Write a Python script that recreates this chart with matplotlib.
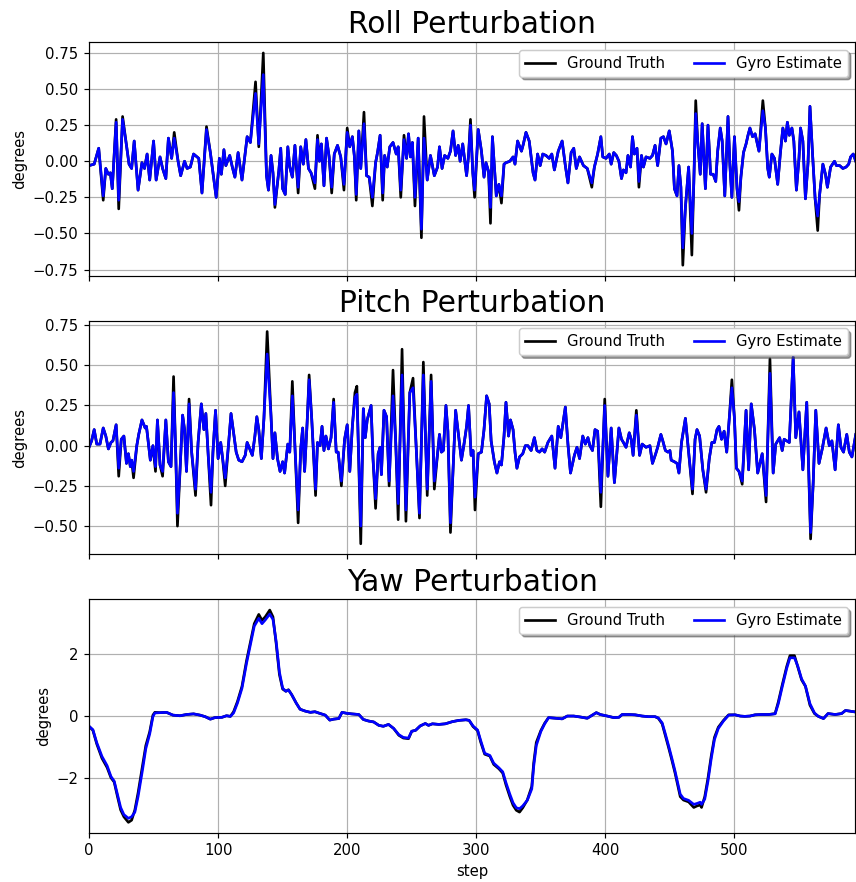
import matplotlib
matplotlib.use('Agg')
import matplotlib.pyplot as plt

# ---- roll perturbation (degrees) ----
roll_steps = [0, 4, 7.5, 11, 13, 15, 16.5, 18, 21, 23,
              26, 29, 31, 33, 35, 38, 41, 43, 45, 47,
              50, 52, 55, 57, 59.5, 61.5, 64, 66, 69, 71,
              74, 76, 78.5, 81, 85, 87.5, 91, 94, 98.5, 101,
              102.5, 104.5, 106, 109, 111, 113, 115.5, 118.5, 122.5, 125,
              129, 131.5, 135, 137.5, 139, 141, 142.5, 144, 147, 148.5,
              150, 152, 154, 155.5, 157.5, 159.5, 162, 164, 166, 168,
              170, 172, 175, 177, 178.5, 180, 182, 184, 186, 188,
              190, 192.5, 195, 197.5, 200, 202, 204, 205.5, 207, 209,
              210.5, 213, 215, 217, 219.5, 222, 223.5, 225.5, 227.5, 229,
              231, 233, 235.5, 238, 239.5, 241.5, 244, 246, 247.5, 249,
              250.5, 252.5, 255, 257.5, 259.5, 262, 264.5, 267.5, 270, 271.5,
              273.5, 275.5, 278, 280, 282, 284, 286, 287.5, 289.5, 292.5,
              294, 295.5, 297.3, 298.7, 301.5, 304, 306, 307.5, 309.5, 311,
              312.5, 314, 315.5, 317.5, 319.5, 321.5, 323, 326, 328.5, 330,
              332, 335, 336.5, 338.5, 341, 344, 345.5, 347.5, 349.5, 351.5,
              354, 356.5, 358.5, 360.5, 363.5, 366.5, 369, 371, 373.5, 375.5,
              377.5, 380, 383, 386, 389.5, 391.5, 394, 396.5, 398, 400.5,
              403, 404.5, 406.5, 408.5, 410.5, 412.5, 414, 416, 417.5, 419.5,
              421, 422.5, 424.5, 426, 428, 429.5, 431.5, 434.5, 436.5, 438.5,
              440.5, 443, 445, 447, 449.5, 452, 453.5, 455.5, 457, 458.5,
              460, 462, 464.5, 467, 468.5, 470, 471.5, 473.5, 475, 477.5,
              479.5, 481.5, 483.5, 485.5, 487, 489, 490.5, 492.5, 495, 496.5,
              498, 500, 502, 503.5, 505, 507, 509, 510.5, 512, 514,
              516, 519, 522, 524, 525.8, 527, 529, 531, 533.5, 535.5,
              537.5, 539.5, 541, 542.5, 544.5, 546, 548, 550, 551.2, 553,
              555, 557, 558.5, 560.5, 562.5, 564.5, 566, 568.5, 570.5, 572,
              574.5, 577.5, 579, 581.5, 584, 586.5, 588.5, 590, 592, 594]
roll_truth = [-0.03, -0.02, 0.09, -0.27, -0.05, -0.09, -0.08, -0.19, 0.29, -0.33,
              0.31, 0.11, -0.02, -0.05, 0.14, -0.2, -0.01, -0.05, 0.05, -0.13,
              0.14, -0.13, 0.03, -0.05, -0.12, 0.16, 0.02, 0.2, 0.0, -0.1,
              0.0, -0.05, -0.04, 0.05, 0.02, -0.22, 0.24, 0.06, -0.25, 0.02,
              -0.09, 0.08, -0.03, 0.04, -0.04, -0.11, 0.06, -0.13, 0.17, 0.13,
              0.55, 0.1, 0.75, -0.1, -0.2, 0.04, -0.08, -0.32, -0.07, 0.09,
              -0.19, -0.23, 0.1, -0.04, -0.11, 0.11, -0.22, 0.1, -0.02, 0.15,
              -0.05, -0.08, -0.19, 0.18, 0.0, 0.12, -0.17, 0.16, 0.03, -0.22,
              0.05, 0.11, 0.03, -0.2, 0.23, 0.1, 0.17, 0.04, -0.27, 0.21,
              -0.05, 0.34, -0.1, -0.11, -0.31, -0.01, 0.06, 0.18, -0.27, 0.04,
              -0.04, 0.1, 0.13, 0.05, 0.1, -0.25, 0.18, 0.02, 0.19, 0.03,
              0.13, -0.31, 0.16, -0.53, 0.31, -0.13, 0.04, -0.1, -0.04, 0.1,
              -0.05, 0.04, 0.02, 0.07, 0.21, 0.04, 0.11, 0.0, 0.12, -0.1,
              0.04, 0.29, -0.08, -0.25, 0.22, 0.07, -0.11, -0.01, -0.07, -0.43,
              0.17, -0.04, -0.24, -0.16, -0.29, -0.02, -0.01, 0.0, 0.03, -0.02,
              0.14, 0.07, 0.12, 0.2, 0.14, -0.08, -0.13, 0.05, -0.03, 0.05,
              0.04, 0.02, 0.05, -0.06, 0.07, 0.14, -0.03, -0.15, 0.06, 0.09,
              -0.05, 0.03, -0.03, -0.05, -0.18, -0.04, 0.05, 0.17, 0.03, 0.02,
              0.05, -0.02, 0.06, 0.04, 0.0, -0.12, -0.06, -0.08, 0.04, -0.04,
              0.17, 0.05, 0.09, -0.18, 0.04, -0.04, 0.03, 0.02, 0.04, 0.11,
              -0.03, 0.16, 0.17, 0.12, 0.21, 0.07, -0.19, -0.24, -0.03, -0.18,
              -0.72, -0.32, -0.04, -0.65, -0.15, 0.42, 0.14, -0.09, 0.26, -0.19,
              0.25, -0.09, -0.09, -0.14, 0.07, 0.23, 0.14, -0.24, 0.31, -0.03,
              -0.25, 0.17, -0.19, -0.34, -0.11, 0.06, 0.12, 0.18, 0.23, 0.17,
              0.19, 0.07, 0.42, 0.23, -0.05, -0.11, 0.05, 0.02, -0.16, 0.05,
              0.23, 0.14, 0.27, 0.18, 0.23, 0.14, -0.2, 0.02, 0.23, 0.14,
              -0.26, -0.01, 0.38, 0.05, -0.26, -0.48, -0.23, -0.02, -0.09, -0.18,
              -0.04, 0.0, -0.03, -0.03, -0.05, -0.04, -0.02, 0.03, 0.05, 0.0]
roll_gyro = [-0.03, -0.02, 0.09, -0.24, -0.05, -0.09, -0.08, -0.19, 0.27, -0.27,
             0.29, 0.11, -0.02, -0.05, 0.14, -0.2, -0.01, -0.05, 0.05, -0.13,
             0.14, -0.13, 0.03, -0.05, -0.12, 0.16, 0.02, 0.16, 0.0, -0.1,
             0.0, -0.05, -0.04, 0.05, 0.02, -0.22, 0.22, 0.06, -0.25, 0.02,
             -0.09, 0.08, -0.03, 0.04, -0.04, -0.11, 0.06, -0.13, 0.17, 0.13,
             0.47, 0.12, 0.6, -0.1, -0.2, 0.04, -0.08, -0.3, -0.07, 0.09,
             -0.19, -0.23, 0.1, -0.04, -0.11, 0.11, -0.18, 0.1, -0.02, 0.15,
             -0.05, -0.08, -0.15, 0.15, 0.0, 0.12, -0.17, 0.16, 0.03, -0.18,
             0.05, 0.11, 0.03, -0.16, 0.2, 0.1, 0.17, 0.04, -0.23, 0.21,
             -0.05, 0.26, -0.1, -0.11, -0.25, -0.01, 0.06, 0.18, -0.22, 0.04,
             -0.04, 0.1, 0.13, 0.05, 0.1, -0.2, 0.15, 0.02, 0.19, 0.03,
             0.13, -0.25, 0.16, -0.47, 0.16, -0.13, 0.04, -0.1, -0.04, 0.1,
             -0.05, 0.04, 0.02, 0.07, 0.21, 0.04, 0.11, 0.0, 0.12, -0.1,
             0.04, 0.25, -0.08, -0.2, 0.22, 0.07, -0.11, -0.01, -0.07, -0.32,
             0.17, -0.04, -0.24, -0.16, -0.24, -0.02, -0.01, 0.0, 0.03, -0.02,
             0.14, 0.07, 0.12, 0.2, 0.14, -0.08, -0.13, 0.05, -0.03, 0.05,
             0.04, 0.02, 0.05, -0.06, 0.07, 0.14, -0.03, -0.15, 0.06, 0.09,
             -0.05, 0.03, -0.03, -0.05, -0.15, -0.04, 0.05, 0.17, 0.03, 0.02,
             0.05, -0.02, 0.06, 0.04, 0.0, -0.12, -0.06, -0.08, 0.04, -0.04,
             0.17, 0.05, 0.09, -0.14, 0.04, -0.04, 0.03, 0.02, 0.04, 0.11,
             -0.03, 0.16, 0.17, 0.12, 0.21, 0.07, -0.19, -0.24, -0.03, -0.18,
             -0.6, -0.32, -0.04, -0.5, -0.15, 0.33, 0.14, -0.09, 0.26, -0.19,
             0.25, -0.09, -0.09, -0.14, 0.07, 0.23, 0.14, -0.24, 0.31, -0.03,
             -0.25, 0.17, -0.19, -0.28, -0.11, 0.06, 0.12, 0.18, 0.23, 0.17,
             0.19, 0.07, 0.35, 0.23, -0.05, -0.11, 0.05, 0.02, -0.16, 0.05,
             0.23, 0.14, 0.27, 0.18, 0.23, 0.14, -0.2, 0.02, 0.23, 0.14,
             -0.26, -0.01, 0.38, 0.05, -0.26, -0.38, -0.23, -0.02, -0.09, -0.18,
             -0.04, 0.0, -0.03, -0.03, -0.05, -0.04, -0.02, 0.03, 0.05, 0.0]

# ---- pitch perturbation (degrees) ----
pitch_steps = [0, 2, 4, 6, 8.5, 11, 13, 15, 17, 18.5,
               21, 23, 25, 27, 29, 30.5, 32, 33, 34.5, 37,
               38.5, 41, 43.5, 44.5, 47.5, 49.5, 51.5, 53, 55, 57,
               59.5, 61.5, 63.5, 65.5, 67, 68.5, 70.5, 72.5, 74, 75.5,
               77.5, 79.5, 82.5, 84.5, 87, 89, 90.5, 92.5, 94.5, 96,
               98, 100, 102, 103.5, 105.5, 108, 110, 112, 114, 116,
               118.5, 121, 122.5, 124.5, 126.5, 128.5, 130, 131.5, 133.5, 135.5,
               138, 141, 142.5, 144, 146, 148, 150, 151.5, 154, 155.5,
               157.5, 159.5, 162, 164, 165.5, 167, 169, 170.5, 172.5, 175.5,
               177, 179, 180.5, 182, 183.5, 185.5, 187.5, 189.5, 191.5, 193,
               195.5, 198, 200, 202, 204, 206, 207.5, 210.5, 212.5, 214,
               215.5, 218.5, 220, 222, 224, 225.5, 226.5, 228.5, 230.5, 232.5,
               235.5, 237.5, 239.5, 242.5, 245.5, 248.5, 251, 253.5, 256, 259,
               262, 265, 267.5, 270, 271.5, 273, 274.5, 276.5, 278, 280,
               282, 284, 286, 288.5, 290.5, 292.5, 294, 296, 297.5, 299,
               301.5, 304, 306, 308, 310, 311.5, 314, 316, 318, 319.5,
               321.5, 323, 325, 326.5, 328.5, 330, 331.5, 333.5, 336, 338,
               340, 342.5, 345, 347, 349, 351, 353, 355.5, 358.5, 361,
               363.5, 365.5, 369, 371, 373, 376, 378, 380, 382.5, 384.5,
               386.5, 388, 390, 392, 394, 396.5, 399.5, 402, 404.5, 407,
               410.5, 412.5, 414, 416, 418.5, 420, 421.5, 424, 426.5, 428.5,
               431.5, 434.5, 436.5, 439, 440.5, 443, 444.5, 446.5, 448.5, 450,
               451, 453.5, 455.5, 457, 459, 462, 464.5, 467.5, 469.5, 471,
               473, 475.5, 478, 480.5, 482.5, 484.5, 486.5, 488, 490, 492,
               494, 496, 498, 500, 501.5, 503.5, 506, 509, 511, 513,
               515.5, 518, 521.5, 524.5, 527.5, 530, 532, 535, 537, 538.5,
               540.5, 542.5, 545.5, 547.5, 550, 553, 556, 559, 561, 563,
               565.5, 568, 571, 573.5, 575.5, 578, 580.5, 582.5, 584.5, 587,
               589, 591, 594]
pitch_truth = [-0.01, 0.03, 0.1, 0.01, 0.01, 0.11, 0.06, -0.02, 0.02, 0.03,
               0.13, -0.19, 0.04, 0.06, -0.11, -0.05, -0.13, -0.09, -0.2, 0.0,
               0.07, 0.16, 0.11, 0.12, -0.09, 0.0, -0.16, 0.16, -0.12, -0.19,
               0.16, -0.1, -0.13, 0.43, 0.0, -0.5, -0.15, 0.19, 0.1, -0.16,
               0.29, -0.04, -0.31, 0.02, 0.26, 0.1, 0.2, -0.08, -0.37, -0.04,
               0.22, -0.08, 0.02, -0.08, -0.25, 0.0, 0.2, 0.08, -0.04, -0.09,
               -0.1, -0.06, 0.02, -0.02, -0.06, 0.06, 0.18, 0.1, -0.08, 0.17,
               0.71, 0.18, -0.08, 0.08, -0.08, -0.16, -0.1, -0.17, 0.01, -0.04,
               0.4, 0.0, -0.48, -0.02, 0.11, -0.16, 0.15, 0.44, 0.17, -0.31,
               0.02, 0.0, 0.12, -0.03, 0.06, -0.02, 0.05, 0.29, -0.04, -0.04,
               -0.25, 0.04, 0.13, -0.16, 0.12, 0.33, 0.37, -0.61, 0.23, 0.05,
               0.16, 0.25, -0.08, -0.39, -0.05, -0.01, -0.18, 0.22, 0.18, -0.25,
               0.47, 0.04, -0.46, 0.6, -0.47, 0.33, 0.42, -0.02, -0.45, 0.52,
               -0.31, 0.44, -0.27, -0.05, 0.07, -0.04, -0.03, 0.25, 0.09, -0.54,
               -0.15, 0.22, 0.08, -0.09, 0.01, 0.12, 0.25, -0.06, -0.03, -0.4,
               -0.05, -0.04, 0.1, 0.31, 0.26, 0.03, -0.1, -0.17, -0.1, -0.12,
               0.06, 0.27, 0.06, 0.16, 0.1, -0.04, -0.14, -0.07, -0.05, 0.0,
               0.0, -0.03, 0.05, -0.03, -0.04, -0.02, -0.04, 0.02, 0.06, -0.14,
               0.12, 0.05, 0.24, 0.01, -0.17, -0.06, -0.01, -0.08, 0.06, 0.01,
               0.05, 0.0, -0.03, 0.1, 0.09, -0.38, 0.29, -0.19, 0.11, -0.23,
               0.11, 0.04, 0.02, -0.01, 0.08, 0.04, -0.06, 0.22, -0.06, 0.01,
               -0.01, 0.0, -0.11, -0.05, -0.01, 0.07, 0.03, -0.03, -0.04, -0.03,
               -0.09, -0.1, -0.11, -0.17, 0.02, 0.17, -0.04, -0.3, 0.04, 0.1,
               0.06, -0.15, -0.29, -0.08, 0.02, 0.02, 0.1, 0.12, 0.04, 0.09,
               -0.04, 0.17, 0.41, 0.17, -0.14, -0.16, -0.24, 0.22, -0.15, 0.26,
               0.1, -0.17, -0.05, -0.35, 0.54, -0.17, 0.01, 0.05, -0.03, 0.04,
               0.03, 0.02, 0.55, 0.05, 0.21, -0.15, 0.27, -0.58, -0.23, 0.22,
               -0.11, -0.02, 0.11, 0.0, 0.03, -0.15, 0.13, -0.01, -0.04, 0.07,
               -0.04, -0.07, 0.07]
pitch_gyro = [-0.01, 0.03, 0.1, 0.01, 0.01, 0.11, 0.06, -0.02, 0.02, 0.03,
              0.13, -0.14, 0.04, 0.06, -0.11, -0.05, -0.13, -0.09, -0.16, 0.0,
              0.07, 0.16, 0.11, 0.12, -0.09, 0.0, -0.13, 0.16, -0.12, -0.16,
              0.16, -0.1, -0.13, 0.33, 0.0, -0.42, -0.15, 0.19, 0.1, -0.16,
              0.26, -0.04, -0.27, 0.02, 0.26, 0.1, 0.2, -0.08, -0.29, -0.04,
              0.22, -0.08, 0.02, -0.08, -0.2, 0.0, 0.2, 0.08, -0.04, -0.09,
              -0.1, -0.06, 0.02, -0.02, -0.06, 0.06, 0.18, 0.1, -0.08, 0.17,
              0.57, 0.18, -0.08, 0.08, -0.08, -0.16, -0.1, -0.17, 0.01, -0.04,
              0.31, 0.0, -0.4, -0.02, 0.11, -0.16, 0.15, 0.41, 0.17, -0.27,
              0.02, 0.0, 0.12, -0.03, 0.06, -0.02, 0.05, 0.27, -0.04, -0.04,
              -0.22, 0.04, 0.13, -0.16, 0.12, 0.3, 0.32, -0.5, 0.23, 0.05,
              0.16, 0.25, -0.08, -0.33, -0.05, -0.01, -0.18, 0.22, 0.18, -0.22,
              0.31, 0.04, -0.36, 0.44, -0.4, 0.33, 0.36, -0.02, -0.42, 0.44,
              -0.27, 0.4, -0.22, -0.05, 0.07, -0.04, -0.03, 0.25, 0.09, -0.48,
              -0.15, 0.22, 0.08, -0.09, 0.01, 0.12, 0.25, -0.06, -0.03, -0.32,
              -0.05, -0.04, 0.1, 0.31, 0.26, 0.03, -0.1, -0.17, -0.1, -0.12,
              0.06, 0.27, 0.06, 0.16, 0.1, -0.04, -0.14, -0.07, -0.05, 0.0,
              0.0, -0.03, 0.05, -0.03, -0.04, -0.02, -0.04, 0.02, 0.06, -0.14,
              0.12, 0.05, 0.24, 0.01, -0.17, -0.06, -0.01, -0.08, 0.06, 0.01,
              0.05, 0.0, -0.03, 0.1, 0.09, -0.29, 0.25, -0.19, 0.11, -0.23,
              0.11, 0.04, 0.02, -0.01, 0.08, 0.04, -0.06, 0.19, -0.06, 0.01,
              -0.01, 0.0, -0.11, -0.05, -0.01, 0.07, 0.03, -0.03, -0.04, -0.03,
              -0.09, -0.1, -0.11, -0.17, 0.02, 0.17, -0.04, -0.27, 0.04, 0.1,
              0.06, -0.15, -0.27, -0.08, 0.02, 0.02, 0.1, 0.12, 0.04, 0.09,
              -0.04, 0.17, 0.36, 0.17, -0.14, -0.16, -0.22, 0.22, -0.15, 0.26,
              0.1, -0.17, -0.05, -0.31, 0.45, -0.17, 0.01, 0.05, -0.03, 0.04,
              0.03, 0.02, 0.55, 0.05, 0.21, -0.15, 0.27, -0.54, -0.23, 0.22,
              -0.11, -0.02, 0.11, 0.0, 0.03, -0.15, 0.13, -0.01, -0.04, 0.07,
              -0.04, -0.07, 0.07]

# ---- yaw perturbation (degrees) ----
yaw_steps = [0, 3, 6, 10, 14, 17, 19.5, 22, 24.5, 27,
             30.5, 33, 35.5, 38, 41.5, 44, 47, 49.5, 51, 55,
             60, 65, 70.5, 75.5, 81, 86, 90, 94, 97.5, 103,
             106.5, 109.5, 112, 115, 118.5, 122, 125.5, 128, 131.5, 134,
             136.5, 140, 142.5, 145, 147.5, 150, 152.5, 154.5, 157, 160.5,
             163.5, 167.5, 171.5, 175, 178.5, 183, 186.5, 189.5, 193.5, 196,
             199.5, 203.5, 209, 212.5, 216.5, 220.5, 224.5, 228, 232, 236,
             240, 243.5, 247.5, 250, 253, 256.5, 260.5, 263, 266, 271,
             276, 281.5, 286.5, 292, 294.5, 297.5, 301, 303.5, 306.5, 310.5,
             313.5, 317.5, 320.5, 323, 326, 328.5, 331, 333.5, 336, 339.5,
             343, 344.5, 346.5, 350, 353, 356, 361.5, 366.5, 370.5, 375.5,
             380.5, 386, 389.5, 393, 396, 401.5, 406.5, 410.5, 413, 418,
             423, 428.5, 433.5, 438.5, 441, 444, 446.5, 449, 451.5, 454,
             456, 458, 460.5, 464.5, 468.5, 471, 473.5, 474.5, 477, 479.5,
             482, 484.5, 487.5, 491.5, 495.5, 500.5, 504.5, 508, 512, 516,
             521, 526.5, 531.5, 534, 537, 540.5, 543, 546.5, 549, 552,
             555, 558.5, 562, 565, 569, 572.5, 578, 583, 586, 590.5,
             594]
yaw_truth = [-0.33, -0.46, -0.9, -1.36, -1.66, -1.99, -2.13, -2.59, -3.03, -3.25,
             -3.43, -3.36, -3.03, -2.48, -1.6, -0.95, -0.51, 0.03, 0.12, 0.11,
             0.12, 0.03, 0.01, 0.05, 0.07, 0.03, -0.02, -0.1, -0.05, -0.04,
             0.01, -0.01, 0.14, 0.47, 0.96, 1.78, 2.49, 2.98, 3.28, 3.09,
             3.2, 3.42, 3.2, 2.33, 1.34, 0.87, 0.8, 0.85, 0.69, 0.42,
             0.22, 0.16, 0.12, 0.14, 0.09, 0.03, -0.13, -0.1, -0.08, 0.12,
             0.09, 0.07, 0.05, -0.11, -0.16, -0.19, -0.3, -0.33, -0.27, -0.4,
             -0.62, -0.71, -0.73, -0.49, -0.46, -0.32, -0.24, -0.3, -0.25, -0.27,
             -0.25, -0.18, -0.14, -0.12, -0.14, -0.34, -0.47, -0.85, -1.23, -1.29,
             -1.56, -1.7, -1.84, -2.22, -2.6, -2.88, -3.04, -3.1, -2.96, -2.71,
             -2.27, -1.51, -0.85, -0.47, -0.23, -0.05, -0.07, -0.09, 0.0, 0.0,
             -0.03, -0.07, 0.02, 0.11, 0.05, 0.0, -0.05, -0.04, 0.05, 0.05,
             0.04, 0.0, -0.02, -0.02, -0.07, -0.25, -0.63, -1.02, -1.42, -1.84,
             -2.22, -2.6, -2.71, -2.77, -2.95, -2.9, -2.87, -2.95, -2.6, -2.0,
             -1.29, -0.69, -0.36, -0.14, 0.04, 0.04, 0.0, -0.01, 0.0, 0.04,
             0.05, 0.05, 0.08, 0.46, 1.0, 1.6, 1.95, 1.95, 1.6, 1.17,
             0.96, 0.35, 0.08, -0.01, -0.08, 0.08, 0.05, 0.08, 0.18, 0.15,
             0.13]
yaw_gyro = [-0.33, -0.44, -0.86, -1.3, -1.6, -1.95, -2.1, -2.52, -2.95, -3.18,
            -3.3, -3.25, -3.1, -2.6, -1.72, -1.05, -0.58, -0.02, 0.1, 0.11,
            0.12, 0.03, 0.01, 0.05, 0.07, 0.03, -0.02, -0.1, -0.05, -0.04,
            0.01, -0.01, 0.1, 0.42, 0.9, 1.7, 2.4, 2.9, 3.15, 2.98,
            3.1, 3.29, 3.12, 2.4, 1.42, 0.9, 0.8, 0.84, 0.69, 0.42,
            0.22, 0.16, 0.12, 0.14, 0.09, 0.03, -0.13, -0.1, -0.08, 0.12,
            0.09, 0.07, 0.05, -0.11, -0.16, -0.19, -0.3, -0.33, -0.27, -0.4,
            -0.6, -0.69, -0.71, -0.49, -0.46, -0.32, -0.24, -0.3, -0.25, -0.27,
            -0.25, -0.18, -0.14, -0.12, -0.14, -0.32, -0.45, -0.8, -1.2, -1.27,
            -1.52, -1.67, -1.8, -2.15, -2.52, -2.8, -2.96, -2.99, -2.9, -2.72,
            -2.35, -1.62, -0.95, -0.5, -0.25, -0.05, -0.07, -0.09, 0.0, 0.0,
            -0.03, -0.07, 0.02, 0.11, 0.05, 0.0, -0.05, -0.04, 0.05, 0.05,
            0.04, 0.0, -0.02, -0.02, -0.06, -0.22, -0.58, -0.96, -1.36, -1.78,
            -2.15, -2.52, -2.66, -2.72, -2.85, -2.82, -2.78, -2.85, -2.68, -2.1,
            -1.38, -0.76, -0.4, -0.16, 0.03, 0.04, 0.0, -0.01, 0.0, 0.04,
            0.05, 0.05, 0.07, 0.4, 0.94, 1.54, 1.88, 1.88, 1.62, 1.2,
            0.97, 0.4, 0.1, -0.01, -0.08, 0.08, 0.05, 0.08, 0.18, 0.15,
            0.13]

panels = [
    ('Roll Perturbation', roll_steps, roll_truth, roll_gyro),
    ('Pitch Perturbation', pitch_steps, pitch_truth, pitch_gyro),
    ('Yaw Perturbation', yaw_steps, yaw_truth, yaw_gyro),
]

fig, axes = plt.subplots(3, 1, sharex=True, figsize=(8.0, 8.243), dpi=107)
fig.subplots_adjust(left=0.104, right=0.999, top=0.952, bottom=0.0556, hspace=0.193)

for ax, (title, steps, truth, gyro) in zip(axes, panels):
    ax.plot(steps, truth, color='black', linewidth=1.8, label='Ground Truth')
    ax.plot(steps, gyro, color='blue', linewidth=1.8, label='Gyro Estimate')
    ax.set_title(title, fontsize=20)
    ax.set_ylabel('degrees', fontsize=10)
    ax.grid(True)
    ax.legend(loc='upper right', ncol=2, shadow=True, fontsize=10)
    ax.tick_params(labelsize=10)

axes[-1].set_xlim(0, 593.5)
axes[-1].set_xlabel('step', fontsize=10)

fig.savefig('out.png', dpi=107)
